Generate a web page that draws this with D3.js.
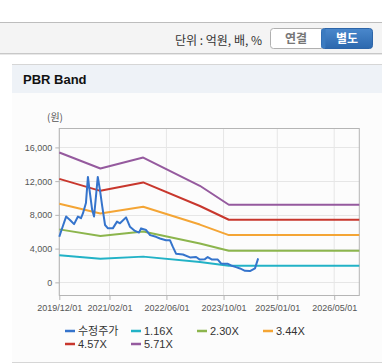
<!DOCTYPE html>
<html>
<head>
  <meta charset="UTF-8">
  <title>PBR Band</title>
  <script src="https://d3js.org/d3.v7.min.js"></script>
  <style>
    body {
      margin: 0;
      background: #fff;
      font-family: "Liberation Sans", Arial, "Noto Sans CJK KR", sans-serif;
    }
    .grid line {
      stroke: #e6e6e6;
    }
    .axis text {
      font-size: 9px;
      fill: #555;
    }
    .axis path, .axis line {
      stroke: #b5b5b5;
    }
  </style>
</head>
<body>
  <div id="chart"></div>
  <script>
    const parse = d3.timeParse("%Y-%m-%d");

    // adjusted share price (수정주가)
    const priceDates = [
      "2019-12-01", "2019-12-15", "2020-01-28", "2020-03-01", "2020-04-05", "2020-05-08",
      "2020-06-03", "2020-06-20", "2020-07-15", "2020-08-01", "2020-08-15", "2020-09-06",
      "2020-09-22", "2020-10-08", "2020-10-24", "2020-11-12", "2020-12-01", "2020-12-25",
      "2021-01-19", "2021-03-01", "2021-04-06", "2021-05-01", "2021-06-22", "2021-07-25",
      "2021-09-06", "2021-10-10", "2021-10-28", "2021-12-10", "2022-01-13", "2022-03-04",
      "2022-04-07", "2022-05-28", "2022-07-01", "2022-07-26", "2022-08-22", "2022-10-20",
      "2022-12-19", "2023-02-09", "2023-03-13", "2023-04-25", "2023-05-19", "2023-06-25",
      "2023-08-13", "2023-09-09", "2023-10-04", "2023-11-07", "2023-12-04", "2024-01-15",
      "2024-02-18", "2024-04-01", "2024-05-13", "2024-06-25", "2024-07-22"
    ];
    const priceValues = [
      5400, 6000, 7800, 7400, 6900, 7800,
      7600, 8200, 9400, 12500, 10900, 8600,
      7800, 10100, 12500, 10900, 9000, 6800,
      6400, 6400, 7200, 7000, 7700, 6600,
      6100, 5900, 6400, 6200, 5600, 5400,
      5200, 5000, 5000, 4200, 3400, 3300,
      2960, 3000, 2700, 2750, 3000, 2700,
      2700, 2250, 2200, 2200, 2000, 1800,
      1650, 1370, 1340, 1660, 2840
    ];

    // band lines (PBR multiples)
    const bandDates = ["2019-12-01", "2020-11-15", "2021-11-15", "2023-03-13", "2023-11-15", "2026-12-01"];
    const band116 = [3200, 2800, 3050, 2400, 1970, 1970];
    const band230 = [6280, 5490, 6040, 4600, 3750, 3750];
    const band344 = [9310, 8170, 8960, 6850, 5600, 5600];
    const band457 = [12270, 10850, 11850, 9050, 7420, 7420];
    const band571 = [15400, 13500, 14800, 11450, 9200, 9200];

    const seriesNames = ["수정주가", "1.16X", "2.30X", "3.44X", "4.57X", "5.71X"];
    const seriesColors = ["#3574cc", "#22b2c6", "#8cb54d", "#f4a535", "#c8372d", "#955a9e"];

    const yTicks = [0, 4000, 8000, 12000, 16000];
    const xTicks = ["2019-12-01", "2021-02-01", "2022-06-01", "2023-10-01", "2025-01-01", "2026-05-01"];

    const W = 382, H = 364;
    const plot = { left: 59.3, right: 359.3, top: 128, bottom: 295 };

    const svg = d3.select("#chart").append("svg")
      .attr("width", W)
      .attr("height", H);

    // top toolbar
    svg.append("rect").attr("x", 0).attr("y", 22).attr("width", W).attr("height", 31).attr("fill", "#f4f4f4");
    svg.append("line").attr("x1", 0).attr("x2", W).attr("y1", 22.5).attr("y2", 22.5).attr("stroke", "#bdbdbd");
    svg.append("line").attr("x1", 0).attr("x2", W).attr("y1", 53.5).attr("y2", 53.5).attr("stroke", "#c8c8c8");
    svg.append("line").attr("x1", 0).attr("x2", W).attr("y1", 54.5).attr("y2", 54.5).attr("stroke", "#e8e8e8");

    svg.append("text")
      .attr("x", 262).attr("y", 44.5)
      .attr("text-anchor", "end")
      .style("font-family", "'Noto Sans CJK KR', sans-serif")
      .style("font-size", "12px")
      .attr("fill", "#333")
      .text("단위 : 억원, 배, %");

    const grad = svg.append("defs").append("linearGradient")
      .attr("id", "btn").attr("x1", 0).attr("x2", 0).attr("y1", 0).attr("y2", 1);
    grad.append("stop").attr("offset", "0%").attr("stop-color", "#4a88cc");
    grad.append("stop").attr("offset", "100%").attr("stop-color", "#2c68ae");

    svg.append("rect").attr("x", 270.5).attr("y", 28.5).attr("width", 54).attr("height", 20)
      .attr("rx", 3).attr("fill", "#fff").attr("stroke", "#b0b0b0");
    svg.append("rect").attr("x", 321.5).attr("y", 28.5).attr("width", 51).attr("height", 20)
      .attr("rx", 3).attr("fill", "url(#btn)").attr("stroke", "#2d65a8");
    svg.append("rect").attr("x", 321.5).attr("y", 29).attr("width", 4).attr("height", 19)
      .attr("fill", "#3b7bc0");
    svg.append("text").attr("x", 296).attr("y", 43).attr("text-anchor", "middle")
      .style("font-family", "'Noto Sans CJK KR', sans-serif")
      .style("font-size", "12px").style("font-weight", "bold")
      .attr("fill", "#777").text("연결");
    svg.append("text").attr("x", 347).attr("y", 43).attr("text-anchor", "middle")
      .style("font-family", "'Noto Sans CJK KR', sans-serif")
      .style("font-size", "12px").style("font-weight", "bold")
      .attr("fill", "#fff").text("별도");

    // panel
    svg.append("rect").attr("x", 12).attr("y", 64).attr("width", W - 12).attr("height", 298).attr("fill", "#fcfcfc");
    svg.append("rect").attr("x", 12).attr("y", 64).attr("width", W - 12).attr("height", 29).attr("fill", "#eef2f7");
    svg.append("line").attr("x1", 12).attr("x2", W).attr("y1", 64.5).attr("y2", 64.5).attr("stroke", "#d6d6d6");
    svg.append("line").attr("x1", 12).attr("x2", W).attr("y1", 362.5).attr("y2", 362.5).attr("stroke", "#d6d6d6");
    svg.append("text").attr("x", 23).attr("y", 84)
      .style("font-size", "13px").style("font-weight", "bold")
      .attr("fill", "#111").text("PBR Band");

    // scales
    const x = d3.scaleTime()
      .domain([parse("2019-12-01"), parse("2026-12-01")])
      .range([plot.left, plot.right]);
    const y = d3.scaleLinear()
      .domain([-1500, 18300])
      .range([plot.bottom, plot.top]);

    // grid
    svg.append("g").attr("class", "grid")
      .selectAll("line.h").data(yTicks).enter().append("line")
      .attr("x1", plot.left).attr("x2", plot.right)
      .attr("y1", d => Math.round(y(d)) + 0.5).attr("y2", d => Math.round(y(d)) + 0.5);
    svg.append("g").attr("class", "grid")
      .selectAll("line.v").data(xTicks).enter().append("line")
      .attr("y1", plot.top).attr("y2", plot.bottom)
      .attr("x1", d => x(parse(d))).attr("x2", d => x(parse(d)));

    // frame
    svg.append("rect")
      .attr("x", plot.left).attr("y", plot.top + 0.5)
      .attr("width", plot.right - plot.left).attr("height", plot.bottom - plot.top)
      .attr("fill", "none").attr("stroke", "#b5b5b5");

    // axes
    svg.append("g").attr("class", "axis")
      .attr("transform", `translate(${plot.left},0)`)
      .call(d3.axisLeft(y).tickValues(yTicks).tickFormat(d3.format(",")).tickSize(4).tickPadding(3))
      .call(g => g.select(".domain").remove());

    svg.append("g").attr("class", "axis")
      .attr("transform", `translate(0,${plot.bottom})`)
      .call(d3.axisBottom(x).tickValues(xTicks.map(parse)).tickFormat(d3.timeFormat("%Y/%m/%d")).tickSize(5).tickPadding(5))
      .call(g => g.select(".domain").remove());

    svg.append("text").attr("x", 55).attr("y", 121).attr("text-anchor", "middle")
      .style("font-family", "'Noto Sans CJK KR', sans-serif")
      .style("font-size", "10px").attr("fill", "#555").text("(원)");

    // lines
    const line = d3.line().x(d => x(d[0])).y(d => y(d[1]));
    const zipBand = vals => bandDates.map((d, i) => [parse(d), vals[i]]);
    const series = [
      priceDates.map((d, i) => [parse(d), priceValues[i]]),
      zipBand(band116), zipBand(band230), zipBand(band344), zipBand(band457), zipBand(band571)
    ];
    const drawOrder = [1, 2, 3, 4, 5, 0];
    svg.append("g").selectAll("path").data(drawOrder).enter().append("path")
      .attr("d", i => line(series[i]))
      .attr("fill", "none")
      .attr("stroke", i => seriesColors[i])
      .attr("stroke-width", 2)
      .attr("stroke-linejoin", "round");

    // legend
    const legendCols = [65, 131, 197, 263];
    const legendRows = [331, 344];
    const legend = svg.append("g").selectAll("g").data(seriesNames).enter().append("g")
      .attr("transform", (d, i) => `translate(${legendCols[i % 4]},${legendRows[Math.floor(i / 4)]})`);
    legend.append("line").attr("x1", 0).attr("x2", 10).attr("y1", 0).attr("y2", 0)
      .attr("stroke", (d, i) => seriesColors[i]).attr("stroke-width", 2.5);
    legend.append("text").attr("x", 13).attr("y", 4)
      .style("font-size", "11px").attr("fill", "#333")
      .text(d => d);
  </script>
</body>
</html>
